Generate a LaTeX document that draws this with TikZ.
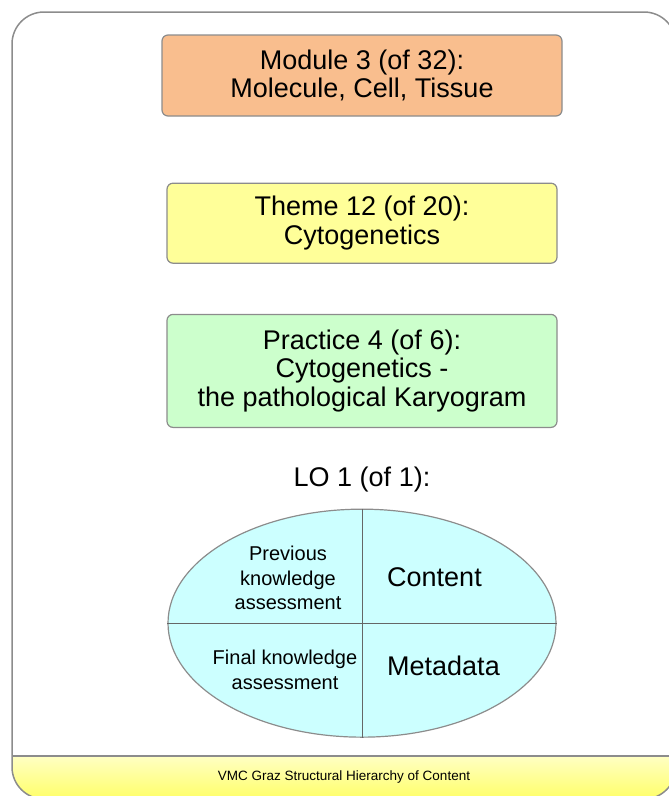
\documentclass[tikz,border=0pt]{standalone}
\usepackage{fontspec}
\setmainfont{Liberation Sans}
\usetikzlibrary{shapes.geometric,positioning}
\definecolor{modfill}  {RGB}{249,190,142}
\definecolor{themefill}{RGB}{255,255,153}
\definecolor{pracfill} {RGB}{204,255,204}
\definecolor{lofill}   {RGB}{204,255,255}
\definecolor{edgegray} {RGB}{140,140,140}
\definecolor{foothi}   {RGB}{255,255,195}
\definecolor{footlo}   {RGB}{255,255,105}
\tikzset{
  lvl/.style  ={rectangle,draw=edgegray,rounded corners=6pt,line width=1.2pt,
                minimum width=390pt,minimum height=80pt,align=center,
                font=\fontsize{27}{28.5}\selectfont,inner sep=0pt},
  ttl/.style  ={font=\fontsize{27}{28.5}\selectfont,inner sep=0pt},
  qsmall/.style={font=\fontsize{20}{24.5}\selectfont,align=center,inner sep=0pt},
  ax/.style   ={draw=black!60,line width=1pt},
}

\begin{document}
\begin{tikzpicture}[x=1pt,y=-1pt]
  \useasboundingbox (0,0) rectangle (669,796);
  \clip (0,0) rectangle (669,796);
  % slide frame and footer
  \begin{scope}
    \clip[rounded corners=32pt] (12,12) rectangle (676,799);
    \shade[top color=foothi,bottom color=footlo] (12,756) rectangle (676,799);
  \end{scope}
  \draw[edgegray,line width=2pt] (12,756) -- (676,756);
  \draw[edgegray,line width=1.5pt,rounded corners=32pt] (12,12) rectangle (676,799);
  \node[font=\fontsize{13.5}{15}\selectfont,inner sep=0pt] (foot) at (344,777)
       {VMC Graz Structural Hierarchy of Content};

  % hierarchy levels
  \node[lvl,fill=modfill,minimum width=400pt,minimum height=81pt]
                            (mod)   at (362,75.5) {Module 3 (of 32):\\Molecule, Cell, Tissue};
  \node[lvl,fill=themefill,below=66pt of mod]
                            (theme) {Theme 12 (of 20):\\Cytogenetics};
  \node[lvl,fill=pracfill,minimum height=113pt,below=50pt of theme]
                            (prac)  {Practice 4 (of 6):\\Cytogenetics -\\the pathological Karyogram};
  \node[ttl,below=39pt of prac]
                            (lotit) {LO 1 (of 1):};

  % learning object
  \node[ellipse,draw=edgegray,fill=lofill,line width=1.2pt,
        minimum width=388pt,minimum height=228pt,below=16pt of lotit] (lo) {};
  \draw[ax] (lo.north) -- (lo.south);
  \draw[ax] (lo.west)  -- (lo.east);
  \node[qsmall] (prev)  at (288,578) {Previous\\knowledge\\assessment};
  \node[ttl,anchor=west] (cont) at (387,577.5) {Content};
  \node[qsmall] (final) at (285,670) {Final knowledge\\assessment};
  \node[ttl,anchor=west] (meta) at (387,665.5) {Metadata};
\end{tikzpicture}
\end{document}
